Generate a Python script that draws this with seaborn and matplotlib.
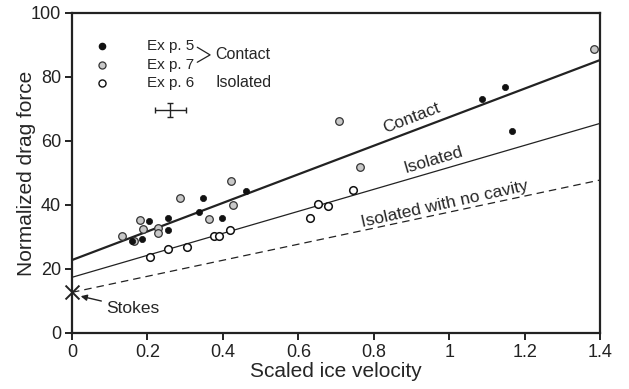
import matplotlib
matplotlib.use("Agg")
import matplotlib.pyplot as plt
import seaborn as sns
import pandas as pd

# ---- data ----
exp5_v = [0.158, 0.186, 0.205, 0.254, 0.254, 0.337, 0.346, 0.397, 0.462, 1.087, 1.149, 1.167]
exp5_f = [28.8, 29.3, 34.9, 35.9, 32.2, 37.7, 42.2, 36.0, 44.5, 73.0, 76.9, 63.0]

exp7_v = [0.132, 0.163, 0.179, 0.189, 0.229, 0.229, 0.287, 0.364, 0.422, 0.428, 0.707, 0.764, 1.384]
exp7_f = [30.4, 28.75, 35.3, 32.4, 32.8, 31.25, 42.2, 35.7, 47.6, 40.0, 66.3, 52.0, 88.8]

exp6_v = [0.208, 0.254, 0.306, 0.377, 0.391, 0.419, 0.632, 0.653, 0.678, 0.745]
exp6_f = [23.75, 26.25, 26.8, 30.3, 30.3, 32.1, 35.9, 40.3, 39.7, 44.6]

line_v = [0.0, 1.4]
contact_f = [22.8, 85.3]
isolated_f = [17.4, 65.5]
nocavity_f = [12.7, 47.8]

stokes_v = [0.0]
stokes_f = [12.7]

x_ticks = [0, 0.2, 0.4, 0.6, 0.8, 1.0, 1.2, 1.4]
x_ticklabels = ["0", "0.2", "0.4", "0.6", "0.8", "1", "1.2", "1.4"]
y_ticks = [0, 20, 40, 60, 80, 100]

# ---- style ----
sns.set_style("ticks")
plt.rcParams["font.family"] = ["Liberation Sans", "DejaVu Sans"]

fig = plt.figure(figsize=(6.29, 3.89), dpi=100)
ax = fig.add_axes([0.1145, 0.144, 0.8395, 0.8226])

d5 = pd.DataFrame({"v": exp5_v, "f": exp5_f})
d7 = pd.DataFrame({"v": exp7_v, "f": exp7_f})
d6 = pd.DataFrame({"v": exp6_v, "f": exp6_f})

sns.lineplot(x=line_v, y=contact_f, ax=ax, color="#222222", lw=1.6)
sns.lineplot(x=line_v, y=isolated_f, ax=ax, color="#222222", lw=0.9)
sns.lineplot(x=line_v, y=nocavity_f, ax=ax, color="#222222", lw=0.9, linestyle=(0, (6, 4)))

sns.scatterplot(data=d7, x="v", y="f", ax=ax, color="#c8c8c8", edgecolor="#333333",
                linewidth=0.9, s=30, zorder=3)
sns.scatterplot(data=d6, x="v", y="f", ax=ax, color="white", edgecolor="#111111",
                linewidth=1.1, s=30, zorder=3)
sns.scatterplot(data=d5, x="v", y="f", ax=ax, color="#111111", edgecolor="#111111",
                linewidth=0.5, s=20, zorder=4)

# Stokes marker
sns.scatterplot(x=stokes_v, y=stokes_f, ax=ax, marker="x", color="#222222", s=100,
                linewidth=1.4, zorder=5, clip_on=False)
ax.annotate("Stokes", xy=(0.023, 11.5), xytext=(0.09, 7.7), fontsize=12.5,
            va="center", ha="left",
            arrowprops=dict(arrowstyle="-|>", color="#222222", lw=1.0,
                            mutation_scale=9, shrinkA=1, shrinkB=0))

# error-bar cross
ax.errorbar([0.26], [69.7], xerr=[0.041], yerr=[2.2], color="#222222",
            lw=1.0, capsize=2.5, capthick=1.0)

# legend (manual)
leg_v = 0.079
ax.scatter([leg_v], [89.7], s=20, color="#111111", zorder=4)
ax.scatter([leg_v], [83.7], s=26, color="#c8c8c8", edgecolor="#333333", linewidth=0.9, zorder=4)
ax.scatter([leg_v], [78.0], s=26, color="white", edgecolor="#111111", linewidth=1.0, zorder=4)
for yy, t in zip([89.7, 83.7, 78.0], ["Ex p. 5", "Ex p. 7", "Ex p. 6"]):
    ax.text(0.2, yy, t, fontsize=11, va="center", ha="left")
ax.plot([0.332, 0.366, 0.332], [89.3, 86.9, 84.6], color="#222222", lw=0.9)
ax.text(0.38, 87.0, "Contact", fontsize=11.5, va="center", ha="left")
ax.text(0.38, 78.2, "Isolated", fontsize=11.5, va="center", ha="left")

# line labels
ax.text(0.899, 67.3, "Contact", fontsize=12.5, rotation=21, ha="center", va="center",
        rotation_mode="anchor")
ax.text(0.958, 54.0, "Isolated", fontsize=12.5, rotation=16.5, ha="center", va="center",
        rotation_mode="anchor")
ax.text(0.989, 40.3, "Isolated with no cavity", fontsize=12.5, rotation=12.5,
        ha="center", va="center", rotation_mode="anchor")

ax.set_xlim(0, 1.4)
ax.set_ylim(0, 100)
ax.set_xticks(x_ticks)
ax.set_xticklabels(x_ticklabels)
ax.set_yticks(y_ticks)
ax.tick_params(direction="out", length=5, width=1.4, labelsize=13, colors="#222222",
               pad=3)
for sp in ax.spines.values():
    sp.set_visible(True)
    sp.set_linewidth(1.6)
    sp.set_color("#222222")
ax.set_xlabel("Scaled ice velocity", fontsize=15, labelpad=1)
ax.set_ylabel("Normalized drag force", fontsize=15)
ax.yaxis.set_label_coords(-0.068, 0.5)

fig.savefig("out.png", dpi=100)
